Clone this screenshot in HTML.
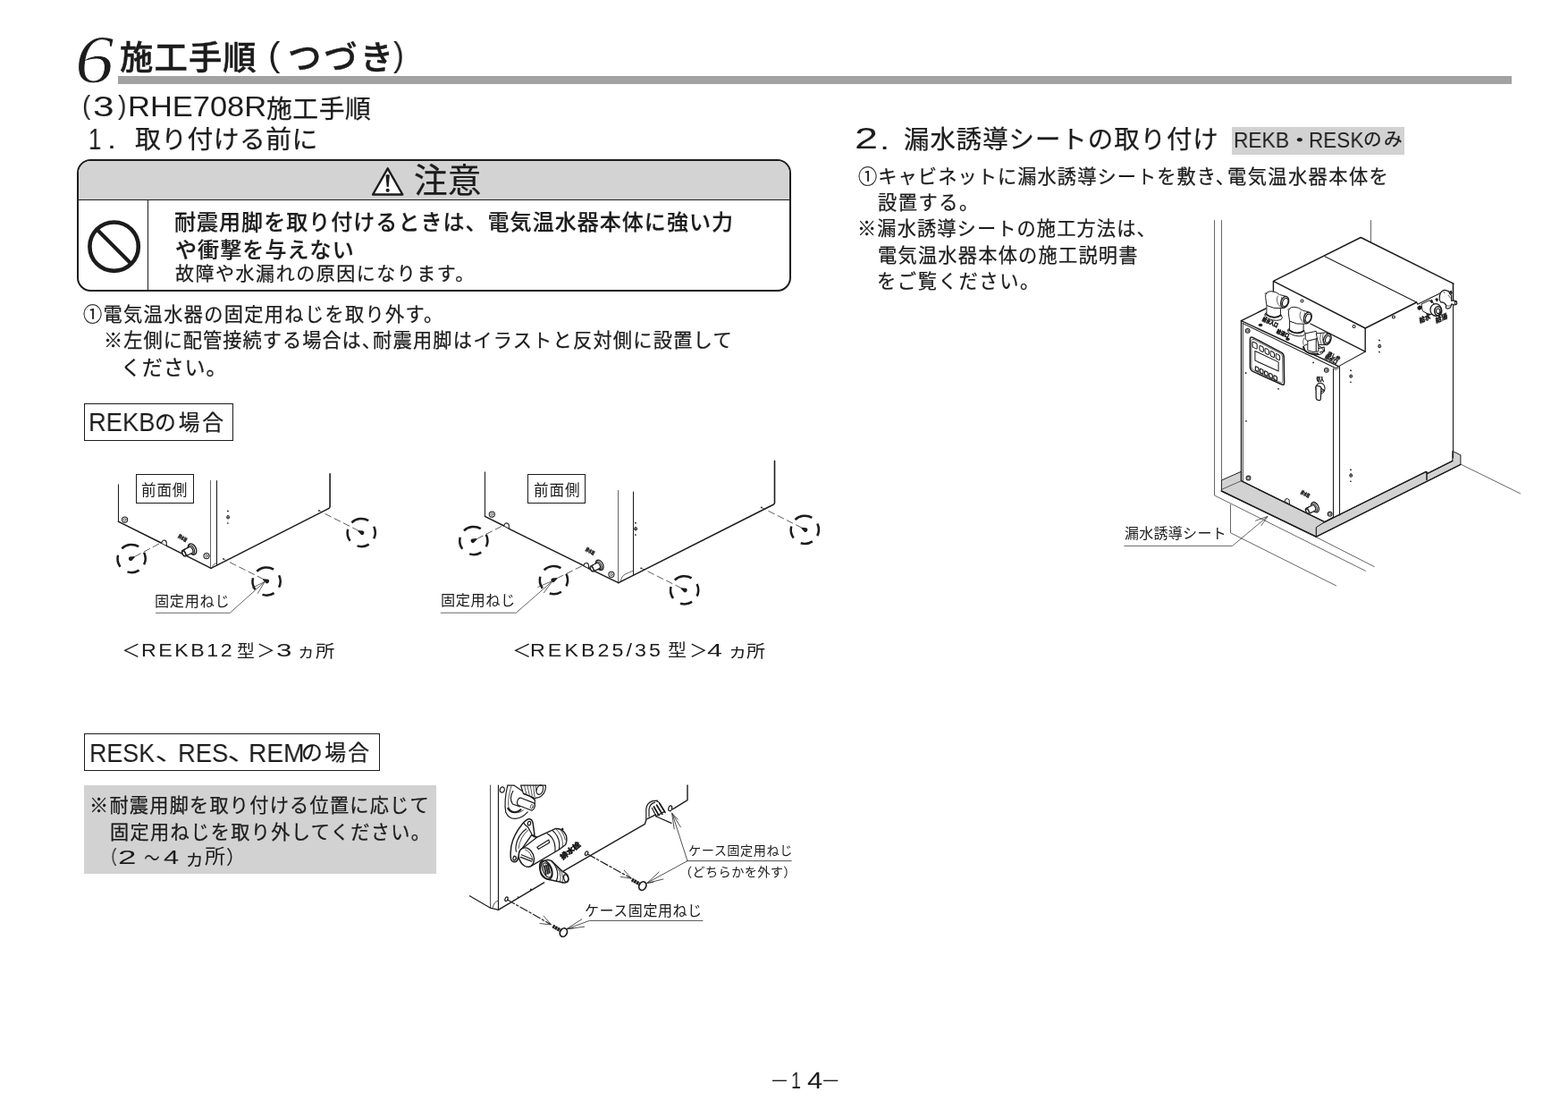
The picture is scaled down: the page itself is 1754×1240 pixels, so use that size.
<!DOCTYPE html>
<html lang="ja">
<head>
<meta charset="utf-8">
<title>施工手順</title>
<style>
html,body{margin:0;padding:0;background:#fff;}
body{width:1754px;height:1240px;position:relative;overflow:hidden;color:#1c1c1c;
 font-family:"Liberation Sans","Noto Sans CJK JP",sans-serif;}
.t{position:absolute;white-space:pre;line-height:1;margin:0;transform-origin:0 0;will-change:transform;}
.bx{position:absolute;box-sizing:border-box;}
svg{position:absolute;left:0;top:0;overflow:visible;will-change:transform;}
svg text{font-family:"Liberation Sans","Noto Sans CJK JP",sans-serif;fill:#1c1c1c;}
</style>
</head>
<body>
<div class="bx" style="left:132px;top:85px;width:1559px;height:9px;background:#a2a2a2;"></div>
<div class="bx" style="left:85.6px;top:178.2px;width:799.7px;height:148.1px;border:2.6px solid #1c1c1c;border-radius:15.5px;overflow:hidden;background:#fff;">
 <div class="bx" style="left:0;top:0;width:100%;height:43.8px;background:#d3d3d3;border-bottom:1.1px solid #1c1c1c;"></div>
 <div class="bx" style="left:77.5px;top:43px;width:1.1px;height:110px;background:#1c1c1c;"></div>
</div>
<div class="bx" style="left:94.1px;top:451.3px;width:167.2px;height:41.5px;border:1.2px solid #1c1c1c;"></div>
<div class="bx" style="left:152px;top:530.4px;width:64.8px;height:33px;border:1.1px solid #1c1c1c;"></div>
<div class="bx" style="left:590.1px;top:530.3px;width:64.8px;height:33.2px;border:1.1px solid #1c1c1c;"></div>
<div class="bx" style="left:94.4px;top:820.4px;width:330.4px;height:41.4px;border:1.2px solid #1c1c1c;"></div>
<div class="bx" style="left:94.4px;top:878.3px;width:393.4px;height:98.4px;background:#d2d2d2;"></div>
<div class="bx" style="left:1377.8px;top:142.1px;width:193.2px;height:31.1px;background:#d2d2d2;"></div>

<svg width="1754" height="1240" viewBox="0 0 1754 1240">
<g id="icons">
<path d="M433.7 188.300L450.300 217.500H417.100Z" fill="#fff" stroke="#1c1c1c" stroke-width="2.4" stroke-linejoin="round"/>
<path d="M431.500 196q2.200-1.900 4.400 0l-1.200 12.900h-2z" fill="#1c1c1c"/>
<circle cx="433.700" cy="212.800" r="2.100" fill="#1c1c1c"/>
<circle cx="127.600" cy="275.700" r="27.200" fill="none" stroke="#1c1c1c" stroke-width="4.600"/>
<path d="M108.400 256.400L146.800 295" fill="none" stroke="#1c1c1c" stroke-width="4.200"/>
</g>
</svg>
<svg width="1754" height="1240" viewBox="0 0 1754 1240">
<style>
.k{fill:none;stroke:#1c1c1c;stroke-width:1.6;stroke-linecap:round;stroke-linejoin:round}
.m{fill:none;stroke:#1c1c1c;stroke-width:1.05;stroke-linecap:round;stroke-linejoin:round}
.n{fill:none;stroke:#333;stroke-width:.75;stroke-linecap:round;stroke-linejoin:round}
.w{fill:#fff;stroke:#1c1c1c;stroke-width:1.05;stroke-linejoin:round}
.d{fill:none;stroke:#333;stroke-width:.8;stroke-dasharray:8 3.5}
.c{fill:none;stroke:#1c1c1c;stroke-width:2.5}
.f{fill:#1c1c1c;stroke:none}
.g{fill:#d2d2d2;stroke:#1c1c1c;stroke-width:1;stroke-linejoin:round}
.tt{font-size:5.5px;font-weight:900;fill:#111;stroke:#111;stroke-width:.3px}
.i3 .m{stroke-width:1.2}.i3 .n{stroke-width:.85}.i3 .w{stroke-width:1.2}
.i4 .k{stroke-width:1.45}.i4 .m{stroke-width:1.05}.i4 .n{stroke-width:.75}.i4 .w{stroke-width:1}.i4 .g{stroke-width:1}
</style>
<g id="ill1">
<path class="m" d="M132.5 541.8V583.1"/>
<path class="k" d="M132.3 583.1L180.7 607.2M186.4 610.4L236.1 635.4"/>
<path class="w" d="M180.9 606.6a2.6 3 0 1 1 5.3 1.2l.3 2.6-5.6-2.8z"/>
<path class="n" d="M235.5 537.4V635.2"/>
<path class="m" d="M242.5 537.4V631.8"/>
<path class="k" d="M236.1 635.4L367.6 568.6q1.5-.8 1.5-2.4V529.8"/>
<path class="n" d="M237.4 634.6q.8-4.6 5.3-5"/>
<circle class="m" cx="139.6" cy="581" r="3.1"/><circle class="n" cx="139.6" cy="581" r="1.4"/>
<circle class="m" cx="231" cy="621.6" r="3.1"/><circle class="n" cx="231" cy="621.6" r="1.4"/>
<g transform="translate(212 615.6) rotate(-27) scale(1.0)">
 <ellipse class="w" cx="3.4" cy="0" rx="4.2" ry="6.6" style="stroke-width:1.4"/>
 <ellipse class="w" cx="2.2" cy="0" rx="3.2" ry="5.2"/>
 <path class="w" d="M-6.8-3.7H1.5A2.2 3.7 0 0 1 1.5 3.7H-6.8A2 3.7 0 0 1-6.8-3.7Z" style="stroke-width:1.3"/>
 <ellipse class="w" cx="-6.8" cy="0" rx="1.7" ry="2.7"/>
 <path class="m" d="M-3.8-3.7A2 3.7 0 0 0-3.8 3.7"/>
</g>
<text class="tt" transform="translate(198.8 600.8) rotate(30)" textLength="10.5" lengthAdjust="spacingAndGlyphs">排水栓</text>
<path class="f" d="M254.2 570.6l1.7.5-.3 1.5-1.6-.5zM254.1 584.2l1.6.3-.2 1.3-1.6-.3z"/><ellipse class="m" cx="255.1" cy="578.2" rx="1.2" ry="1.7"/><path class="n" d="M253.3 578.4h3.6"/>
<circle class="f" cx="250" cy="624.9" r=".9"/><circle class="f" cx="356.9" cy="570.9" r=".9"/>
<path class="c" d="M136.3 613.3A15.6 15.6 0 0 1 155.1 611.1M161.1 617.7A15.6 15.6 0 0 1 161.1 631.3M155.6 637.6A15.6 15.6 0 0 1 142.5 639.4M134.5 633.7A15.6 15.6 0 0 1 132.0 620.7"/>
<path class="c" d="M287.3 638.8A15.6 15.6 0 0 1 306.1 636.6M312.1 643.2A15.6 15.6 0 0 1 312.1 656.8M306.6 663.1A15.6 15.6 0 0 1 293.5 664.9M285.5 659.2A15.6 15.6 0 0 1 283.0 646.2"/>
<path class="c" d="M393.4 584.3A15.6 15.6 0 0 1 412.2 582.1M418.2 588.7A15.6 15.6 0 0 1 418.2 602.3M412.7 608.6A15.6 15.6 0 0 1 399.6 610.4M391.6 604.7A15.6 15.6 0 0 1 389.1 591.7"/>
<path class="d" d="M150.6 622.4L178.2 607.9"/>
<path class="d" d="M295 647.8L250.2 625.2"/>
<path class="d" d="M401.4 593.6L357.2 571.2"/>
<g transform="translate(147.3 624.2) rotate(-28)"><path class="f" d="M-3.5 0a2.4 2.4 0 0 1 2.4-2.4L3.8-.6V.6L-1.1 2.4A2.4 2.4 0 0 1-3.5 0Z"/></g>
<g transform="translate(297.6 649.4) rotate(207)"><path class="f" d="M-3.5 0a2.4 2.4 0 0 1 2.4-2.4L3.8-.6V.6L-1.1 2.4A2.4 2.4 0 0 1-3.5 0Z"/></g>
<g transform="translate(404 595.2) rotate(207)"><path class="f" d="M-3.5 0a2.4 2.4 0 0 1 2.4-2.4L3.8-.6V.6L-1.1 2.4A2.4 2.4 0 0 1-3.5 0Z"/></g>
<path class="n" d="M174.4 685.3H257.2L296.2 650.4M282.4 657.2L296.2 650.4L288.4 663.4"/>
</g>
<g id="ill2">
<path class="m" d="M542.5 527.7V577.4"/>
<path class="k" d="M542.4 577.4L563.8 588M569.6 591.4L652.8 632.4M658.6 635.6L691.9 651.6"/>
<path class="w" d="M564.0 587.4a2.6 3 0 1 1 5.3 1.2l.3 2.6-5.6-2.8z"/>
<path class="w" d="M653.1 632.0a2.6 3 0 1 1 5.3 1.2l.3 2.6-5.6-2.8z"/>
<path class="n" d="M691.5 548.4V651.4"/>
<path class="m" d="M708.5 550V642.9"/>
<path class="k" d="M691.9 651.6L865 564.3q1.5-.8 1.5-2.4V515.3"/>
<path class="n" d="M694.3 650.2q1-6.6 5.4-8.2l8.8-4"/>
<circle class="m" cx="550.3" cy="575" r="3.1"/><circle class="n" cx="550.3" cy="575" r="1.4"/>
<circle class="m" cx="683.9" cy="642.3" r="3.1"/><circle class="n" cx="683.9" cy="642.3" r="1.4"/>
<g transform="translate(667.9 633.2) rotate(-27) scale(0.92)">
 <ellipse class="w" cx="3.4" cy="0" rx="4.2" ry="6.6" style="stroke-width:1.4"/>
 <ellipse class="w" cx="2.2" cy="0" rx="3.2" ry="5.2"/>
 <path class="w" d="M-6.8-3.7H1.5A2.2 3.7 0 0 1 1.5 3.7H-6.8A2 3.7 0 0 1-6.8-3.7Z" style="stroke-width:1.3"/>
 <ellipse class="w" cx="-6.8" cy="0" rx="1.7" ry="2.7"/>
 <path class="m" d="M-3.8-3.7A2 3.7 0 0 0-3.8 3.7"/>
</g>
<text class="tt" transform="translate(654.6 615.6) rotate(30)" textLength="10.5" lengthAdjust="spacingAndGlyphs">排水栓</text>
<path class="f" d="M710.2 583.7l1.7.5-.3 1.5-1.6-.5zM710.1 597.3l1.6.3-.2 1.3-1.6-.3z"/><ellipse class="m" cx="711.1" cy="591.3" rx="1.2" ry="1.7"/><path class="n" d="M709.3 591.5h3.6"/>
<circle class="f" cx="717.2" cy="635.3" r=".9"/><circle class="f" cx="851.8" cy="567.4" r=".9"/>
<path class="c" d="M519.0 593.3A15.6 15.6 0 0 1 537.8 591.1M543.8 597.7A15.6 15.6 0 0 1 543.8 611.3M538.3 617.6A15.6 15.6 0 0 1 525.2 619.4M517.2 613.7A15.6 15.6 0 0 1 514.7 600.7"/>
<path class="c" d="M608.6 637.4A15.6 15.6 0 0 1 627.4 635.2M633.4 641.8A15.6 15.6 0 0 1 633.4 655.4M627.9 661.7A15.6 15.6 0 0 1 614.8 663.5M606.8 657.8A15.6 15.6 0 0 1 604.3 644.8"/>
<path class="c" d="M754.8 648.6A15.6 15.6 0 0 1 773.6 646.4M779.6 653.0A15.6 15.6 0 0 1 779.6 666.6M774.1 672.9A15.6 15.6 0 0 1 761.0 674.7M753.0 669.0A15.6 15.6 0 0 1 750.5 656.0"/>
<path class="c" d="M889.5 581.1A15.6 15.6 0 0 1 908.3 578.9M914.3 585.5A15.6 15.6 0 0 1 914.3 599.1M908.8 605.4A15.6 15.6 0 0 1 895.7 607.2M887.7 601.5A15.6 15.6 0 0 1 885.2 588.5"/>
<path class="d" d="M533.4 602.6L562.3 587.8"/>
<path class="d" d="M623 646.6L651.6 632.6"/>
<path class="d" d="M762.6 657.8L717.6 635.4"/>
<path class="d" d="M897.4 590.4L852.2 567.6"/>
<g transform="translate(530 604.2) rotate(-28)"><path class="f" d="M-3.5 0a2.4 2.4 0 0 1 2.4-2.4L3.8-.6V.6L-1.1 2.4A2.4 2.4 0 0 1-3.5 0Z"/></g>
<g transform="translate(619.8 648.2) rotate(-28)"><path class="f" d="M-3.5 0a2.4 2.4 0 0 1 2.4-2.4L3.8-.6V.6L-1.1 2.4A2.4 2.4 0 0 1-3.5 0Z"/></g>
<g transform="translate(765.2 659.4) rotate(207)"><path class="f" d="M-3.5 0a2.4 2.4 0 0 1 2.4-2.4L3.8-.6V.6L-1.1 2.4A2.4 2.4 0 0 1-3.5 0Z"/></g>
<g transform="translate(900 592) rotate(207)"><path class="f" d="M-3.5 0a2.4 2.4 0 0 1 2.4-2.4L3.8-.6V.6L-1.1 2.4A2.4 2.4 0 0 1-3.5 0Z"/></g>
<path class="n" d="M493.2 685.2H577.4L618.3 649.4M601.8 656.4L618.3 649.4L608.3 662.8"/>
</g>
</svg>
<svg width="1754" height="1240" viewBox="0 0 1754 1240">
<g id="ill3" class="i3">
<path class="n" d="M548.5 878V1015.2"/>
<path class="m" d="M557.5 878V1017.4"/>
<path class="m" d="M525.4 1001.7L548.6 1015.2L557.4 1017.4"/>
<path class="n" d="M551.4 1014.4q.6-5.6 6-7.4"/>
<path class="k" style="stroke-width:1.4" d="M557.4 1017.4L608.6 986.8M630 974.2L721.4 921.4l1.4-4.6M724 915.6l9.6-4.8M752.4 904.8L769 894.6V878"/>
<circle class="f" cx="593.9" cy="994.4" r="1"/><circle class="f" cx="579.4" cy="1003" r=".8"/>
<ellipse class="w" cx="656.1" cy="954.2" rx="1.5" ry="2.4" transform="rotate(25 656.1 954.2)"/>
<ellipse class="w" cx="566.5" cy="1005.3" rx="1.5" ry="2.4" transform="rotate(25 566.5 1005.3)"/>
<ellipse class="w" cx="749.7" cy="903.8" rx="1.9" ry="3" transform="rotate(15 749.7 903.8)"/>
<path class="m" d="M722.8 916.8V905q.4-7 7-9.4l5.6-.6M726 913V904.6q1-6 6.6-7.4M734 895.4l3.4 1.8 6 10.2M743.4 907.4l-9.8 5.4M733.6 912.8l17.4 7.6M729.4 903.6l4.400 9"/>
<path class="k" style="stroke-width:1.8" d="M734.6 900.2l6.2 10M737.8 898.4l6.2 10M731.4 902l5.600 9.6"/>
<g transform="translate(540 870) scale(.09675)" style="stroke-width:11">
<ellipse class="m" vector-effect="non-scaling-stroke" cx="225" cy="135" rx="26" ry="32" transform="rotate(20 225 135)" />
<path class="m" vector-effect="non-scaling-stroke" d="M288 83C262 190 250 300 266 392C310 500 430 490 520 392" />
<path class="m" vector-effect="non-scaling-stroke" d="M288 83L360 83L604 250L600 330" />
<path class="n" vector-effect="non-scaling-stroke" d="M330 95C300 190 290 280 300 340C340 420 420 410 470 370" />
<path class="k" vector-effect="non-scaling-stroke" d="M292 350C330 410 400 405 440 365" style="stroke-width:2"/>
<path class="m" vector-effect="non-scaling-stroke" d="M350 150C320 200 320 260 345 300L430 330" />
<path class="w" vector-effect="non-scaling-stroke" d="M436 228L585 285A26 44 15 0 1 560 372L420 318A30 46 15 0 1 436 228Z" />
<ellipse class="n" vector-effect="non-scaling-stroke" cx="566" cy="330" rx="14" ry="26" transform="rotate(15 566 330)" />
<path class="w" vector-effect="non-scaling-stroke" d="M440 83L470 180L600 230C680 235 730 170 728 83Z" />
<path class="n" vector-effect="non-scaling-stroke" d="M480 83L505 185M515 83L540 195M550 83L572 205M585 83L600 215M612 83L618 150" />
<ellipse class="m" vector-effect="non-scaling-stroke" cx="660" cy="135" rx="36" ry="56" transform="rotate(20 660 135)" />
<path class="m" vector-effect="non-scaling-stroke" d="M470 180L560 215L604 250" />
</g>
<g transform="translate(560 905) scale(.07258)">
<path class="w" vector-effect="non-scaling-stroke" d="M520 370L497 205Q482 140 430 148Q390 160 330 230Q200 390 165 560Q145 700 160 770Q175 815 225 810Q262 800 270 735L520 600Z" style="stroke-width:1.5"/>
<ellipse class="m" vector-effect="non-scaling-stroke" cx="440" cy="215" rx="22" ry="32" transform="rotate(15 440 215)" style="stroke-width:1.3"/>
<ellipse class="m" vector-effect="non-scaling-stroke" cx="215" cy="752" rx="22" ry="32" transform="rotate(15 215 752)" style="stroke-width:1.3"/>
<path class="m" vector-effect="non-scaling-stroke" d="M395 300Q262 400 236 560Q228 610 240 650" />
<path class="n" vector-effect="non-scaling-stroke" d="M425 318Q300 420 276 600" />
<path class="m" vector-effect="non-scaling-stroke" d="M360 215Q380 250 420 270L480 380" />
<path class="w" vector-effect="non-scaling-stroke" d="M330 605L480 390L560 430L700 362L850 296Q960 290 1010 400Q1030 480 1000 545L900 620L470 872Q380 900 315 820Q265 740 285 660Q300 620 330 605Z" style="stroke-width:1.4"/>
<path class="m" vector-effect="non-scaling-stroke" d="M480 390Q520 440 560 430M560 430L330 605" />
<ellipse class="w" vector-effect="non-scaling-stroke" cx="398" cy="738" rx="112" ry="152" transform="rotate(-22 398 738)" style="stroke-width:1.3"/>
<path class="m" vector-effect="non-scaling-stroke" d="M308 735L480 800M322 700L492 772" />
<path class="n" vector-effect="non-scaling-stroke" d="M380 620Q470 650 500 800" />
<path class="m" vector-effect="non-scaling-stroke" d="M562 582L742 470L752 512L582 612Z" />
<path class="m" vector-effect="non-scaling-stroke" d="M720 372Q800 420 830 520Q845 580 840 655" />
<path class="m" vector-effect="non-scaling-stroke" d="M800 325Q890 400 905 520Q910 570 900 618" />
<path class="n" vector-effect="non-scaling-stroke" d="M850 300Q940 380 955 500Q960 550 950 588" />
<path class="n" vector-effect="non-scaling-stroke" d="M900 296Q980 360 995 470" />
<path class="f" vector-effect="non-scaling-stroke" d="M930 298l30-14 14 26-22 14z" />
<path class="w" vector-effect="non-scaling-stroke" d="M640 815Q700 760 780 790L960 960Q1030 985 1045 1050Q1050 1110 1000 1130Q960 1135 930 1120L760 1085Q660 1075 620 990Q595 900 640 815Z" style="stroke-width:1.5"/>
<ellipse class="k" vector-effect="non-scaling-stroke" cx="700" cy="932" rx="88" ry="150" transform="rotate(-22 700 932)" style="stroke-width:1.6"/>
<ellipse class="m" vector-effect="non-scaling-stroke" cx="716" cy="936" rx="62" ry="118" transform="rotate(-22 716 936)" />
<path class="k" vector-effect="non-scaling-stroke" d="M672 870L700 1000M700 860L730 990M728 850L756 975" style="stroke-width:1.8"/>
<path class="m" vector-effect="non-scaling-stroke" d="M790 800Q870 880 880 1000Q880 1060 860 1100" />
<path class="n" vector-effect="non-scaling-stroke" d="M860 880Q920 950 925 1040Q925 1090 910 1115" />
<path class="n" vector-effect="non-scaling-stroke" d="M905 920Q960 990 962 1060Q960 1100 948 1122" />
<ellipse class="m" vector-effect="non-scaling-stroke" cx="1008" cy="1062" rx="34" ry="60" transform="rotate(-15 1008 1062)" />
</g>
<text class="tt" style="font-size:8px;stroke-width:.5px" transform="translate(629.6 961.4) rotate(-38)" textLength="26" lengthAdjust="spacingAndGlyphs">排水栓</text>
<path class="m" style="stroke-dasharray:9 2.5 2.5 2.5" d="M657.4 955L705.6 981.8"/>
<path class="n" d="M694.2 980.4L706.5 982.3L698.2 973.2"/>
<path class="m" style="stroke-dasharray:9 2.5 2.5 2.5" d="M567.6 1006L615.8 1033.4"/>
<path class="n" d="M604 1032.6L616.7 1033.9L608.2 1024.4"/>
<g transform="translate(718.8 990.6) scale(1.25)"><path class="k" style="stroke-width:3.2;stroke-linecap:butt" d="M-9.6-5.6L-2.2-1.4"/><path style="stroke:#fff;stroke-width:.5;fill:none" d="M-8.6-3.2l1.800-3.200M-6.4-2l1.800-3.200M-4.200-.8l1.800-3.200"/><ellipse class="w" cx="0" cy="0" rx="3.1" ry="4" transform="rotate(28)" style="stroke-width:1.3"/></g>
<g transform="translate(630.4 1042.6) scale(1.25)"><path class="k" style="stroke-width:3.2;stroke-linecap:butt" d="M-9.6-5.6L-2.2-1.4"/><path style="stroke:#fff;stroke-width:.5;fill:none" d="M-8.6-3.2l1.800-3.200M-6.4-2l1.800-3.200M-4.200-.8l1.800-3.200"/><ellipse class="w" cx="0" cy="0" rx="3.1" ry="4" transform="rotate(28)" style="stroke-width:1.3"/></g>
<path class="n" d="M769 962.6H885.2M769 962.6L752.2 910.4M769 962.6L724.6 986.8"/>
<path class="n" d="M751.6 909.2l2.600 17.600M751.6 909.2l9.800 15.600M751.6 909.2l6.600 7"/>
<path class="n" d="M723.8 987.4l13.400-12.400M723.8 987.4l18-4.400M723.8 987.4l7-1"/>
<path class="n" d="M786 1029.4H659.4L634.2 1038.6"/>
<path class="n" d="M633.6 1038.800l17.200-11M633.6 1038.800l20-2.600M633.6 1038.800l8-1"/>
</g></svg>
<svg width="1754" height="1240" viewBox="0 0 1754 1240">
<g id="ill4" class="i4">
<path class="n" d="M1358.5 246.5V553.9L1527.4 638.3"/>
<path class="n" d="M1366.5 246.5V537"/>
<path class="n" d="M1533.5 246.5V271"/>
<path class="n" d="M1376.5 564.4V595.8L1494.6 654.9"/>
<path class="n" d="M1472.4 600.6L1537.2 633.6"/>
<path class="n" d="M1634.6 519.4L1700.6 551.8"/>
<path class="w" style="stroke:none" d="M1388.4 358.6L1424.4 341V314.4L1522.2 265.5L1625.8 317.1V514L1498.6 576.4L1491.6 578.6L1481.9 583.7L1388.4 537.7Z"/>
<path class="g" d="M1366.4 537L1388.4 527.3V537.7L1481.9 583.7L1472.4 590V600.2L1366.4 549.2Z"/>
<path class="n" d="M1366.8 547.2L1388.4 537.7"/>
<path class="g" d="M1472.4 589.6L1481.9 583.7L1594.8 527.6L1596.4 529.6L1624.8 515.4V504.4L1633.9 508.8V519.4L1472.4 600.2Z"/>
<path class="k" style="stroke-width:1.7" d="M1366.4 549L1472.4 600.2"/>
<path class="k" style="stroke-width:1.3" d="M1472.4 600.2L1633.9 519.4"/>
<path class="k" style="stroke-width:1.5" d="M1481.9 583.7L1594.8 527.6M1596.4 529.6L1624.8 515.4M1596 527.4V536.6"/>
<path class="k" d="M1388.5 358.6V537.7L1481.9 583.7L1491.6 578.4"/>
<path class="n" d="M1390.5 361.5V538.6"/>
<path class="m" d="M1491.5 412V578.4"/>
<path class="m" d="M1498.5 409.8V576"/>
<path class="m" style="stroke-width:1.1" d="M1625.5 317.1V512"/>
<path class="k" d="M1625.5 317.1V340"/>
<path class="k" d="M1388.4 358.6L1416 345M1388.4 358.6L1497.4 409.6"/>
<path class="m" d="M1390.2 361.6L1494.4 411.8L1497.4 409.6L1527.2 393.2"/>
<path class="n" d="M1491.800 412.400l2.800 1.200 4.100-3"/>
<path class="k" d="M1424.4 314.4L1522.2 265.5L1625.8 317.1M1424.4 314.4L1527.2 367L1584.7 338M1424.4 314.4V330"/>
<path class="m" d="M1482 286.700L1584.700 338l1 2.200 25.600-12.400"/>
<path class="k" style="stroke-width:1.4" d="M1527.2 367V393.2L1466 362"/>
<circle class="m" cx="1456.500" cy="336.500" r="1.500"/><circle class="m" cx="1514.600" cy="365" r="1.500"/><circle class="m" cx="1558.900" cy="354.500" r="1.500"/>
<path class="f" d="M1542.3 379.6l1.700.5-.3 1.500-1.600-.5zM1542.2 392.8l1.600.3-.2 1.300-1.600-.3z"/><ellipse class="m" cx="1543.2" cy="387" rx="1.200" ry="1.700"/><path class="n" d="M1541.4 387.2h3.600"/>
<path class="f" d="M1510.3 413.2l1.700.5-.3 1.500-1.600-.5zM1510.2 426.4l1.600.3-.2 1.300-1.600-.3z"/><ellipse class="m" cx="1511.2" cy="420.6" rx="1.200" ry="1.700"/><path class="n" d="M1509.4 420.8h3.600"/>
<path class="f" d="M1510.3 524.2l1.700.5-.3 1.500-1.600-.5zM1510.2 537.4l1.600.3-.2 1.300-1.600-.3z"/><ellipse class="m" cx="1511.2" cy="531.6" rx="1.200" ry="1.700"/><path class="n" d="M1509.4 531.8h3.600"/>
<circle class="f" cx="1394" cy="470.8" r=".9"/>
<circle class="f" cx="1430" cy="434.8" r=".9"/>
<circle class="f" cx="1393.6" cy="417" r=".9"/>
<circle class="f" cx="1469.1" cy="405.4" r=".9"/>
<circle class="m" cx="1395.7" cy="369.8" r="2.4"/><circle class="n" cx="1395.7" cy="369.8" r="1.08"/>
<circle class="m" cx="1483.8" cy="413.8" r="2.4"/><circle class="n" cx="1483.8" cy="413.8" r="1.08"/>
<circle class="m" cx="1396.5" cy="534.5" r="2.4"/><circle class="n" cx="1396.5" cy="534.5" r="1.08"/>
<circle class="m" cx="1487.6" cy="574.8" r="2.4"/><circle class="n" cx="1487.6" cy="574.8" r="1.08"/>
<path class="w" d="M1437.200 560a2.500 2.900 0 1 1 5.100 1.200l.3 2.500-5.400-2.700z"/>
<g transform="translate(1468.2 568.6) rotate(-27) scale(.92)">
 <ellipse class="w" cx="3.4" cy="0" rx="4.2" ry="6.6" style="stroke-width:1.4"/>
 <ellipse class="w" cx="2.2" cy="0" rx="3.2" ry="5.2"/>
 <path class="w" d="M-6.8-3.7H1.500A2.200 3.700 0 0 1 1.500 3.700H-6.800A2 3.700 0 0 1-6.800-3.700Z" style="stroke-width:1.300"/>
 <ellipse class="w" cx="-6.8" cy="0" rx="1.700" ry="2.700"/>
 <path class="m" d="M-3.800-3.700A2 3.700 0 0 0-3.800 3.700"/>
</g>
<text class="tt" transform="translate(1454.600 551.800) rotate(28)" textLength="10.500" lengthAdjust="spacingAndGlyphs">排水栓</text>
<g transform="translate(1380 310) scale(.10484)">
<path class="w" vector-effect="non-scaling-stroke" d="M205 642L505 800Q535 815 536 850L540 1120Q540 1160 510 1142L205 1005Q175 990 175 955L175 665Q175 628 205 642Z" style="stroke-width:1.5"/>
<path class="n" vector-effect="non-scaling-stroke" d="M212 662L495 810Q520 822 521 850L524 1105Q524 1135 500 1122L212 990Q190 980 190 955L190 680Q190 652 212 662Z" />
<path class="m" vector-effect="non-scaling-stroke" d="M200 700Q200 685 215 692L240 704Q250 710 250 722L250 755Q250 768 238 762L212 750Q200 745 200 730Z" />
<path class="m" vector-effect="non-scaling-stroke" d="M276 740Q276 725 290 732L306 740Q318 746 318 760L318 786Q318 800 304 794L288 786Q276 780 276 766Z" />
<path class="m" vector-effect="non-scaling-stroke" d="M334 769Q334 754 348 761L364 769Q376 775 376 789L376 815Q376 829 362 823L346 815Q334 809 334 795Z" />
<path class="m" vector-effect="non-scaling-stroke" d="M392 798Q392 783 406 790L422 798Q434 804 434 818L434 844Q434 858 420 852L404 844Q392 838 392 824Z" />
<path class="m" vector-effect="non-scaling-stroke" d="M450 827Q450 812 464 819L480 827Q492 833 492 847L492 873Q492 887 478 881L462 873Q450 867 450 853Z" />
<path class="m" vector-effect="non-scaling-stroke" d="M228 786L478 905V1002L228 888Z" />
<path class="m" vector-effect="non-scaling-stroke" d="M232 958Q232 948 242 953L258 961Q266 965 266 976L266 1000Q266 1010 256 1005L240 997Q232 993 232 983Z" style="stroke-width:1.2"/>
<path class="m" vector-effect="non-scaling-stroke" d="M281 982Q281 972 291 977L307 985Q315 989 315 1000L315 1024Q315 1034 305 1029L289 1021Q281 1017 281 1007Z" style="stroke-width:1.2"/>
<path class="m" vector-effect="non-scaling-stroke" d="M330 1006Q330 996 340 1001L356 1009Q364 1013 364 1024L364 1048Q364 1058 354 1053L338 1045Q330 1041 330 1031Z" style="stroke-width:1.2"/>
<path class="m" vector-effect="non-scaling-stroke" d="M379 1030Q379 1020 389 1025L405 1033Q413 1037 413 1048L413 1072Q413 1082 403 1077L387 1069Q379 1065 379 1055Z" style="stroke-width:1.2"/>
<path class="m" vector-effect="non-scaling-stroke" d="M428 1054Q428 1044 438 1049L454 1057Q462 1061 462 1072L462 1096Q462 1106 452 1101L436 1093Q428 1089 428 1079Z" style="stroke-width:1.2"/>
<path class="f" vector-effect="non-scaling-stroke" d="M262 505l18-12 24 6 6 16-18 12-24-6z" />
<path class="f" vector-effect="non-scaling-stroke" d="M552 655l18-12 24 6 6 16-18 12-24-6z" />
<ellipse class="m" vector-effect="non-scaling-stroke" cx="925" cy="1185" rx="48" ry="58" transform="rotate(0 925 1185)" />
<path class="w" vector-effect="non-scaling-stroke" d="M878 1172Q878 1155 896 1158L922 1164Q934 1168 934 1182L928 1300Q926 1316 908 1312L894 1308Q880 1304 880 1290Z" style="stroke-width:1.25"/>
<path class="m" vector-effect="non-scaling-stroke" d="M934 1185L962 1204L934 1222" />
<ellipse class="w" vector-effect="non-scaling-stroke" cx="425" cy="415" rx="95" ry="42" transform="rotate(12 425 415)" />
<path class="w" vector-effect="non-scaling-stroke" d="M352 300L352 405Q425 450 500 405L500 300Z" />
<path class="k" vector-effect="non-scaling-stroke" d="M345 395Q425 455 505 405" style="stroke-width:1.7"/>
<path class="w" vector-effect="non-scaling-stroke" d="M340 215Q335 150 400 150Q450 150 490 185L560 205L545 325L500 330Q430 340 352 300Z" />
<path class="n" vector-effect="non-scaling-stroke" d="M330 180l14-16 10 10M470 200Q440 260 500 318" />
<ellipse class="w" vector-effect="non-scaling-stroke" cx="545" cy="265" rx="40" ry="62" transform="rotate(20 545 265)" style="stroke-width:1.3"/>
<ellipse class="m" vector-effect="non-scaling-stroke" cx="550" cy="268" rx="28" ry="46" transform="rotate(20 550 268)" />
<path class="n" vector-effect="non-scaling-stroke" d="M512 212Q490 260 520 322" />
<ellipse class="w" vector-effect="non-scaling-stroke" cx="670" cy="583" rx="95" ry="42" transform="rotate(12 670 583)" />
<path class="w" vector-effect="non-scaling-stroke" d="M597 468L597 573Q670 618 745 573L745 468Z" />
<path class="k" vector-effect="non-scaling-stroke" d="M590 563Q670 623 750 573" style="stroke-width:1.7"/>
<path class="w" vector-effect="non-scaling-stroke" d="M585 383Q580 318 645 318Q695 318 735 353L805 373L790 493L745 498Q675 508 597 468Z" />
<path class="n" vector-effect="non-scaling-stroke" d="M575 348l14-16 10 10M715 368Q685 428 745 486" />
<ellipse class="w" vector-effect="non-scaling-stroke" cx="790" cy="433" rx="40" ry="62" transform="rotate(20 790 433)" style="stroke-width:1.3"/>
<ellipse class="m" vector-effect="non-scaling-stroke" cx="795" cy="436" rx="28" ry="46" transform="rotate(20 795 436)" />
<path class="n" vector-effect="non-scaling-stroke" d="M757 380Q735 428 765 490" />
<ellipse class="w" vector-effect="non-scaling-stroke" cx="850" cy="770" rx="110" ry="55" transform="rotate(12 850 770)" />
<path class="k" vector-effect="non-scaling-stroke" d="M745 740Q760 830 900 815" style="stroke-width:1.8"/>
<path class="w" vector-effect="non-scaling-stroke" d="M765 600L880 575L905 640L905 790Q850 810 790 780L790 680L765 660Z" />
<path class="m" vector-effect="non-scaling-stroke" d="M790 680L880 655L905 640M880 655V790" />
<path class="w" vector-effect="non-scaling-stroke" d="M880 600L985 590Q1040 610 1035 670Q1030 710 1000 722L905 720Z" />
<ellipse class="w" vector-effect="non-scaling-stroke" cx="1000" cy="660" rx="38" ry="58" transform="rotate(20 1000 660)" style="stroke-width:1.3"/>
<ellipse class="m" vector-effect="non-scaling-stroke" cx="1004" cy="662" rx="24" ry="40" transform="rotate(20 1004 662)" />
<path class="n" vector-effect="non-scaling-stroke" d="M930 598Q910 650 935 715M955 595Q935 650 960 718" />
<path class="m" vector-effect="non-scaling-stroke" d="M905 760L965 745L970 790L920 800" />
<path class="n" vector-effect="non-scaling-stroke" d="M750 650Q730 680 745 720" />
</g>
<text class="tt" style="font-size:6px;stroke-width:.45px" transform="translate(1411.600 358.600) rotate(24)" textLength="18.500" lengthAdjust="spacingAndGlyphs">給水入口</text>
<text class="tt" style="font-size:6px;stroke-width:.45px" transform="translate(1427.600 372) rotate(24)" textLength="14.500" lengthAdjust="spacingAndGlyphs">給湯口</text>
<text class="tt" style="font-size:5.6px" transform="translate(1484.600 396.800) rotate(26)" textLength="15" lengthAdjust="spacingAndGlyphs">逃し弁</text>
<text class="tt" style="font-size:5.6px" transform="translate(1481.600 400.600) rotate(26)" textLength="15" lengthAdjust="spacingAndGlyphs">排水口</text>
<text class="tt" style="font-size:5.4px" transform="translate(1472.600 426)" textLength="8.500" lengthAdjust="spacingAndGlyphs">切入</text>
<g transform="translate(1570 300) scale(.06452)">
<path class="w" vector-effect="non-scaling-stroke" d="M640 430Q690 350 760 390Q800 400 800 440L830 470L830 560L880 560Q930 570 925 610Q915 640 870 630L830 620Q830 690 770 700Q720 700 740 640Q700 580 650 590Q600 540 640 430Z" style="stroke-width:1.2"/>
<ellipse class="m" vector-effect="non-scaling-stroke" cx="905" cy="598" rx="18" ry="30" transform="rotate(0 905 598)" />
<path class="n" vector-effect="non-scaling-stroke" d="M700 410l10 20M780 470l30 40M750 650Q790 670 820 640" />
<path class="w" vector-effect="non-scaling-stroke" d="M310 620L450 555Q520 580 540 640L480 800Q420 800 330 740Z" />
<ellipse class="w" vector-effect="non-scaling-stroke" cx="560" cy="720" rx="95" ry="105" transform="rotate(0 560 720)" style="stroke-width:1.3"/>
<ellipse class="m" vector-effect="non-scaling-stroke" cx="600" cy="740" rx="62" ry="78" transform="rotate(0 600 740)" style="stroke-width:1.6"/>
<ellipse class="m" vector-effect="non-scaling-stroke" cx="600" cy="740" rx="32" ry="44" transform="rotate(0 600 740)" />
<path class="f" vector-effect="non-scaling-stroke" d="M240 670l40-30 30 20 0 50-40 20-30-30zM455 560l40-20 20 40-30 30zM545 530l40-20 20 40-30 30zM800 400l30-20 20 50-30 30z" />
<path class="m" vector-effect="non-scaling-stroke" d="M400 780l30 20 50 0M640 800l40 30" />
</g>
<text class="tt" style="font-size:7.5px;font-style:italic" transform="translate(1588.600 361.400) rotate(-24)" textLength="13" lengthAdjust="spacingAndGlyphs">給水</text>
<text class="tt" style="font-size:7.5px;font-style:italic" transform="translate(1606.600 361.400) rotate(-24)" textLength="14" lengthAdjust="spacingAndGlyphs">給湯</text>
<path class="n" d="M1257.800 610.400H1378.600L1418 577.400M1404.600 582.200L1418 577.400L1411 587.600"/>
</g></svg>

<div class="ln"><span class="t" style="left:83.70px;top:28.94px;font-size:75.26px;font-style:italic;font-family:'Liberation Serif',serif;-webkit-text-stroke:.9px #fff;transform:scaleX(1.1554)">6</span></div>
<div class="ln"><span class="t" style="left:134.34px;top:46.67px;font-size:37.40px;font-weight:500;letter-spacing:1.051px;-webkit-text-stroke:.5px">施工手順</span><span class="t" style="left:300.24px;top:41.00px;font-size:39.36px;transform:scaleX(1.0300)">(</span><span class="t" style="left:322.40px;top:46.67px;font-size:37.40px;font-weight:500;letter-spacing:2.927px;-webkit-text-stroke:.5px">つづき</span><span class="t" style="left:439.97px;top:41.00px;font-size:39.36px;transform:scaleX(0.9125)">)</span></div>
<div class="ln"><span class="t" style="left:91.58px;top:102.90px;font-size:30.00px;transform:scaleX(0.9290)">(</span><span class="t" style="left:104.33px;top:104.25px;font-size:31.13px;transform:scaleX(1.3628)">3</span><span class="t" style="left:132.15px;top:102.90px;font-size:30.00px;transform:scaleX(0.9395)">)</span><span class="t" style="left:142.54px;top:104.25px;font-size:31.13px;transform:scaleX(1.1075)">RHE708R</span><span class="t" style="left:297.50px;top:107.62px;font-size:28.80px;letter-spacing:0.568px;-webkit-text-stroke:.25px">施工手順</span></div>
<div class="ln"><span class="t" style="left:99.46px;top:138.60px;font-size:33.04px;transform:scaleX(0.7800)">1</span><span class="t" style="left:119.99px;top:141.13px;font-size:30.00px;transform:scaleX(1.1992)">.</span><span class="t" style="left:151.25px;top:142.07px;font-size:28.80px;letter-spacing:0.453px;-webkit-text-stroke:.25px">取り付ける前に</span></div>
<div class="ln"><span class="t" style="left:463.28px;top:183.68px;font-size:37.60px;letter-spacing:0.206px;-webkit-text-stroke:.25px">注意</span></div>
<div class="ln"><span class="t" style="left:194.90px;top:236.73px;font-size:24.00px;font-weight:500;letter-spacing:1.040px;-webkit-text-stroke:.2px">耐震用脚を取り付けるときは、電気温水器本体に強い力</span></div>
<div class="ln"><span class="t" style="left:195.70px;top:267.77px;font-size:24.00px;font-weight:500;letter-spacing:1.102px;-webkit-text-stroke:.2px">や衝撃を与えない</span></div>
<div class="ln"><span class="t" style="left:195.74px;top:295.32px;font-size:21.00px;letter-spacing:1.526px;-webkit-text-stroke:.25px">故障や水漏れの原因になります。</span></div>
<div class="ln"><span class="t" style="left:93.01px;top:341.31px;font-size:21.20px;letter-spacing:1.347px;-webkit-text-stroke:.25px">①電気温水器の固定用ねじを取り外す。</span></div>
<div class="ln"><span class="t" style="left:116.00px;top:370.14px;font-size:21.20px;letter-spacing:1.030px;-webkit-text-stroke:.25px">※左側に配管接続する場合は、</span><span class="t" style="left:416.50px;top:370.14px;font-size:21.20px;letter-spacing:1.253px;-webkit-text-stroke:.25px">耐震用脚はイラストと反対側に設置して</span></div>
<div class="ln"><span class="t" style="left:135.34px;top:400.33px;font-size:23.00px;letter-spacing:0.847px;-webkit-text-stroke:.25px">ください。</span></div>
<div class="ln"><span class="t" style="left:99.03px;top:456.75px;font-size:29.50px;transform:scaleX(0.9263)">REKB</span><span class="t" style="left:172.80px;top:460.86px;font-size:23.80px;letter-spacing:2.880px;-webkit-text-stroke:.25px">の場合</span></div>
<div class="ln"><span class="t" style="left:157.98px;top:540.73px;font-size:16.60px;letter-spacing:0.794px">前面側</span></div>
<div class="ln"><span class="t" style="left:596.98px;top:540.66px;font-size:16.60px;letter-spacing:0.844px">前面側</span></div>
<div class="ln"><span class="t" style="left:172.86px;top:663.56px;font-size:16.20px;letter-spacing:0.684px">固定用ねじ</span></div>
<div class="ln"><span class="t" style="left:492.86px;top:663.21px;font-size:16.20px;letter-spacing:0.534px">固定用ねじ</span></div>
<div class="ln"><span class="t" style="left:136.40px;top:718.10px;font-size:20.00px;transform:scaleX(1.0588)">＜</span><span class="t" style="left:158.20px;top:717.45px;font-size:20.71px;letter-spacing:2.256px;transform:scaleX(1.1205)">REKB12</span><span class="t" style="left:265.20px;top:719.17px;font-size:19.00px;transform:scaleX(1.0471)">型</span><span class="t" style="left:287.36px;top:718.14px;font-size:20.00px;transform:scaleX(1.0518)">＞</span><span class="t" style="left:308.74px;top:717.45px;font-size:20.71px;transform:scaleX(1.5113)">3</span><span class="t" style="left:331.93px;top:719.00px;font-size:19.00px;transform:scaleX(1.0866)">ヵ</span><span class="t" style="left:353.48px;top:718.73px;font-size:19.00px;transform:scaleX(1.1258)">所</span></div>
<div class="ln"><span class="t" style="left:572.56px;top:718.24px;font-size:20.00px;transform:scaleX(1.0723)">＜</span><span class="t" style="left:593.40px;top:717.45px;font-size:20.71px;letter-spacing:2.735px;transform:scaleX(1.1218)">REKB25/35</span><span class="t" style="left:747.00px;top:718.47px;font-size:19.00px;transform:scaleX(1.1059)">型</span><span class="t" style="left:770.56px;top:718.17px;font-size:20.00px;transform:scaleX(1.0383)">＞</span><span class="t" style="left:790.74px;top:717.45px;font-size:20.71px;transform:scaleX(1.4637)">4</span><span class="t" style="left:814.30px;top:719.00px;font-size:19.00px;transform:scaleX(1.1814)">ヵ</span><span class="t" style="left:835.43px;top:718.65px;font-size:19.00px;transform:scaleX(1.1033)">所</span></div>
<div class="ln"><span class="t" style="left:99.92px;top:826.50px;font-size:30.14px;transform:scaleX(0.8909)">RESK</span><span class="t" style="left:173.06px;top:829.91px;font-size:23.80px;transform:scaleX(1.5573)">、</span><span class="t" style="left:198.52px;top:826.50px;font-size:30.14px;transform:scaleX(0.9098)">RES</span><span class="t" style="left:254.26px;top:829.91px;font-size:23.80px;transform:scaleX(1.5573)">、</span><span class="t" style="left:277.84px;top:826.50px;font-size:30.14px;transform:scaleX(0.9355)">REM</span><span class="t" style="left:337.40px;top:829.91px;font-size:23.80px;letter-spacing:2.330px;-webkit-text-stroke:.25px">の場合</span></div>
<div class="ln"><span class="t" style="left:100.10px;top:890.00px;font-size:21.20px;letter-spacing:1.219px;-webkit-text-stroke:.25px">※耐震用脚を取り付ける位置に応じて</span></div>
<div class="ln"><span class="t" style="left:122.94px;top:919.54px;font-size:21.20px;letter-spacing:1.348px;-webkit-text-stroke:.25px">固定用ねじを取り外してください。</span></div>
<div class="ln"><span class="t" style="left:112.77px;top:947.72px;font-size:21.20px;transform:scaleX(0.8474)">（</span><span class="t" style="left:132.12px;top:947.00px;font-size:22.86px;transform:scaleX(1.6094)">2</span><span class="t" style="left:161.27px;top:948.50px;font-size:21.20px;transform:scaleX(0.8307)">～</span><span class="t" style="left:183.45px;top:947.00px;font-size:22.86px;transform:scaleX(1.3522)">4</span><span class="t" style="left:205.90px;top:948.74px;font-size:21.20px;transform:scaleX(1.1054)">ヵ</span><span class="t" style="left:228.95px;top:947.41px;font-size:21.20px;transform:scaleX(1.0865)">所</span><span class="t" style="left:252.96px;top:947.82px;font-size:21.20px;transform:scaleX(0.9778)">）</span></div>
<div class="ln"><span class="t" style="left:769.56px;top:944.17px;font-size:14.20px;letter-spacing:0.507px">ケース固定用ねじ</span></div>
<div class="ln"><span class="t" style="left:760.00px;top:968.21px;font-size:14.20px;letter-spacing:0.353px">（どちらかを外す）</span></div>
<div class="ln"><span class="t" style="left:654.40px;top:1011.00px;font-size:16.00px;letter-spacing:0.550px">ケース固定用ねじ</span></div>
<div class="ln"><span class="t" style="left:956.31px;top:137.75px;font-size:33.29px;transform:scaleX(1.4075)">2</span><span class="t" style="left:983.79px;top:141.58px;font-size:30.00px;transform:scaleX(1.3402)">.</span><span class="t" style="left:1011.31px;top:142.06px;font-size:28.40px;letter-spacing:1.000px;-webkit-text-stroke:.25px">漏水誘導シートの取り付け</span></div>
<div class="ln"><span class="t" style="left:1380.40px;top:144.55px;font-size:24.03px;transform:scaleX(0.9472)">REKB</span><span class="t" style="left:1439.12px;top:147.12px;font-size:20.50px;transform:scaleX(1.4499)">・</span><span class="t" style="left:1463.80px;top:144.55px;font-size:24.03px;transform:scaleX(0.9381)">RESK</span><span class="t" style="left:1524.51px;top:146.42px;font-size:20.60px;letter-spacing:2.435px;-webkit-text-stroke:.25px">のみ</span></div>
<div class="ln"><span class="t" style="left:959.61px;top:187.41px;font-size:21.20px;letter-spacing:1.099px;-webkit-text-stroke:.25px">①キャビネットに漏水誘導シートを敷き、</span><span class="t" style="left:1372.73px;top:187.41px;font-size:21.20px;letter-spacing:1.462px;-webkit-text-stroke:.25px">電気温水器本体を</span></div>
<div class="ln"><span class="t" style="left:982.05px;top:216.01px;font-size:21.20px;letter-spacing:1.570px;-webkit-text-stroke:.25px">設置する。</span></div>
<div class="ln"><span class="t" style="left:959.30px;top:245.11px;font-size:21.20px;letter-spacing:1.131px;-webkit-text-stroke:.25px">※漏水誘導シートの施工方法は、</span></div>
<div class="ln"><span class="t" style="left:981.53px;top:274.90px;font-size:21.20px;letter-spacing:1.254px;-webkit-text-stroke:.25px">電気温水器本体の施工説明書</span></div>
<div class="ln"><span class="t" style="left:980.65px;top:304.22px;font-size:21.20px;letter-spacing:1.667px;-webkit-text-stroke:.25px">をご覧ください。</span></div>
<div class="ln"><span class="t" style="left:1257.80px;top:588.91px;font-size:16.00px;letter-spacing:0.280px">漏水誘導シート</span></div>
<div class="ln"><span class="t" style="left:861.30px;top:1198.80px;font-size:20.00px;transform:scaleX(1.0961)">－</span><span class="t" style="left:884.81px;top:1196.00px;font-size:25.22px;transform:scaleX(0.7800)">1</span><span class="t" style="left:902.57px;top:1196.00px;font-size:25.22px;transform:scaleX(1.2289)">4</span><span class="t" style="left:918.40px;top:1198.80px;font-size:20.00px;transform:scaleX(1.1168)">－</span></div>

</body>
</html>
